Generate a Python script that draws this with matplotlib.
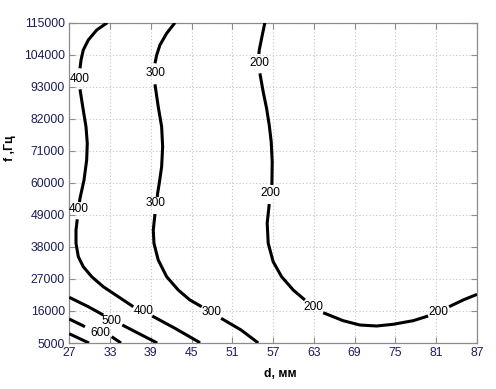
import numpy as np
import matplotlib.pyplot as plt

nan = np.nan

# contour lines; nan marks the gap left for a label
d_400 = [32.60, 31.04, 29.81, 29.07, 28.74, 28.59, nan,
         28.59, 28.99, 29.47, 29.66, 29.57, 29.18, 28.59, 28.51, nan,
         28.19, 28.00, 28.00, 28.34, 29.07, 30.31, 32.01, 34.22, 36.43, nan,
         39.22, 42.56, 45.99, 46.24]
f_400 = [115000, 112480, 109050, 105620, 102180, 99330, nan,
         92120, 86150, 79280, 73580, 67840, 60970, 54690, 53420, nan,
         47480, 43800, 39240, 34640, 31200, 27770, 24330, 20900, 17470, nan,
         14270, 10050, 5450, 5000]

d_300 = [42.56, 41.34, 40.35, 39.87, 39.62, nan,
         39.62, 40.10, 40.60, 40.75, 40.60, 40.25, 40.01, 39.96, nan,
         39.62, 39.37, 39.47, 40.10, 41.34, 43.04, 44.76, 46.49, nan,
         49.35, 52.29, 54.57, 54.81]
f_300 = [115000, 111350, 107330, 103900, 101050, nan,
         93840, 86150, 79280, 72410, 65540, 59840, 56410, 55140, nan,
         49300, 43800, 39240, 33500, 27770, 23200, 19770, 17470, nan,
         13480, 9460, 5450, 5000]

d_200 = [55.79, 55.46, 55.21, 54.96, 54.91, nan,
         55.06, 55.54, 56.04, 56.43, 56.72, 56.87, 56.82, nan,
         56.43, 56.13, 56.28, 57.01, 58.25, 59.96, 61.68, nan,
         64.37, 67.31, 69.76, 72.22, 74.66, 77.60, 79.81, nan,
         82.90, 84.96, 87.00]
f_200 = [115000, 111350, 108460, 105620, 104240, nan,
         97610, 91300, 85600, 79860, 74130, 67260, 59260, nan,
         52730, 46100, 39240, 32920, 27770, 23200, 19770, nan,
         15400, 12660, 11180, 10840, 11420, 12660, 14270, nan,
         17470, 19770, 21700]

d_500 = [27.0, 29.81, 32.01, nan, 34.81, 37.66, 39.87, 39.91]
f_500 = [20690, 17470, 14620, nan, 11180, 7750, 5100, 5000]

d_600 = [27.0, 29.32, nan, 33.25, 34.62]
f_600 = [13240, 10600, nan, 7160, 5000]

d_700 = [27.0, 29.91]
f_700 = [8190, 5000]

# label positions (d, f, text)
labels = [(28.59, 95660, '400'), (28.34, 51120, '400'), (37.90, 16090, '400'),
          (39.66, 97820, '300'), (39.76, 52970, '300'), (47.88, 15540, '300'),
          (54.96, 101050, '200'), (56.57, 56610, '200'), (62.90, 17470, '200'),
          (81.38, 15750, '200'),
          (33.25, 12660, '500'), (31.53, 8540, '600')]

xticks = [27, 33, 39, 45, 51, 57, 63, 69, 75, 81, 87]
yticks = [5000, 16000, 27000, 38000, 49000, 60000, 71000, 82000, 93000, 104000, 115000]

plt.rcParams['font.family'] = ['Liberation Sans', 'DejaVu Sans']

fig = plt.figure(figsize=(4.96, 3.89), dpi=100)
ax = fig.add_axes([69.2/496, 46/389, 407.8/496, 320.3/389])

for d, f in [(d_400, f_400), (d_300, f_300), (d_200, f_200),
             (d_500, f_500), (d_600, f_600), (d_700, f_700)]:
    ax.plot(d, f, color='black', lw=2.2, solid_capstyle='butt', zorder=3)

for d, f, t in labels:
    ax.text(d, f, t, ha='center', va='center', fontsize=8.6, color='black', zorder=4)

ax.set_xlim(27, 87)
ax.set_ylim(5000, 115000)
ax.set_xticks(xticks)
ax.set_yticks(yticks)
ax.set_xticklabels([str(v) for v in xticks])
ax.set_yticklabels([str(v) for v in yticks])

ax.grid(True, color='#c4c4c4', linestyle=(0, (1, 2)), lw=0.8)
ax.tick_params(direction='in', length=4, width=0.8, color='#8c8c8c',
               top=True, right=True, labelsize=8.8, labelcolor='#1c1c5c', pad=3)
for s in ax.spines.values():
    s.set_color('#8c8c8c')
    s.set_linewidth(0.9)

ax.set_xlabel('d, мм', fontsize=8.8, fontweight='bold')
ax.set_ylabel('f ,Гц', fontsize=8.8, fontweight='bold')
ax.xaxis.set_label_coords(0.518, -0.078)
ax.yaxis.set_label_coords(-0.131, 0.608)

fig.savefig('out.png', dpi=100)
